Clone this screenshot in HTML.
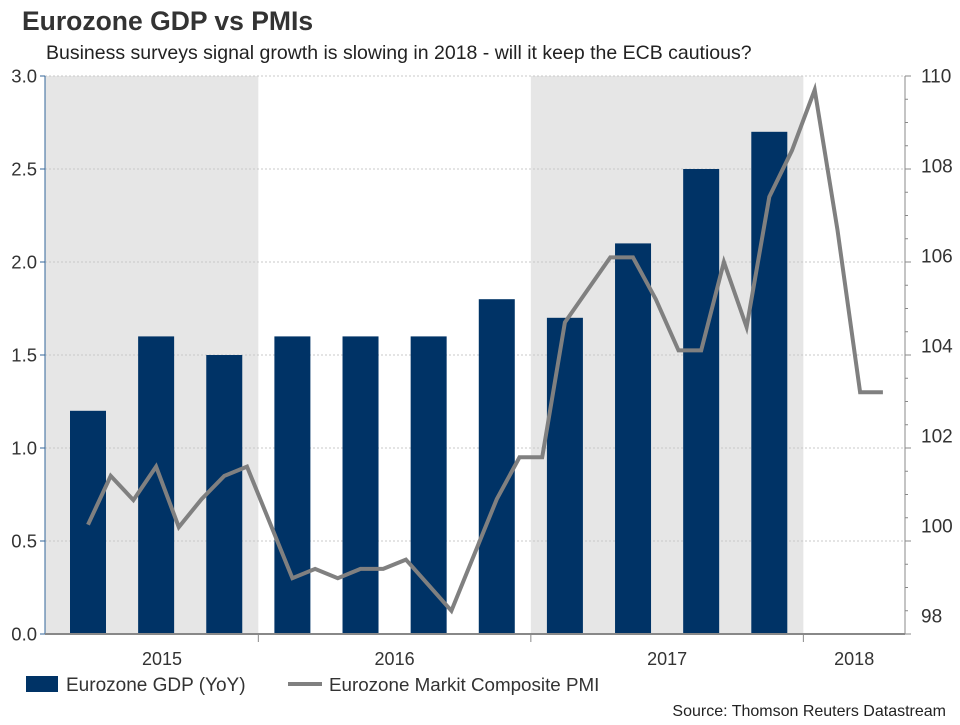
<!DOCTYPE html>
<html><head><meta charset="utf-8"><style>
body{margin:0;background:#fff;font-family:"Liberation Sans",Arial,sans-serif;}
svg text{font-family:"Liberation Sans",Arial,sans-serif;}
</style></head><body>
<svg id="chart" width="960" height="720" xmlns="http://www.w3.org/2000/svg">
<text x="22" y="30" font-size="26.5" font-weight="bold" fill="#333">Eurozone GDP vs PMIs</text>
<text x="46" y="59" font-size="19.5" fill="#222">Business surveys signal growth is slowing in 2018 - will it keep the ECB cautious?</text>
<g id="bg"></g><g id="grid"></g><g id="bars"></g><g id="line"></g><g id="axes"></g>
<g>
<rect x="26" y="676" width="32" height="16" fill="#003366"/>
<text x="66" y="691" font-size="19" fill="#333">Eurozone GDP (YoY)</text>
<line x1="288" y1="684" x2="322" y2="684" stroke="#808080" stroke-width="4"/>
<text x="329" y="691" font-size="18.8" fill="#333">Eurozone Markit Composite PMI</text>
</g>
<text x="946" y="716" font-size="16" fill="#222" text-anchor="end">Source: Thomson Reuters Datastream</text>
</svg>
<script>
const gdp = [1.2,1.6,1.5,1.6,1.6,1.6,1.8,1.7,2.1,2.5,2.7];
const pmi = [100.35,101.4,100.88,101.6,100.3,100.9,101.4,101.6,100.4,99.2,99.4,99.2,99.4,99.4,99.6,99.05,98.5,99.7,100.9,101.8,101.8,104.7,105.4,106.1,106.1,105.2,104.1,104.1,106.0,104.6,107.4,108.4,109.7,106.7,103.2,103.2];
const leftTicks = [0,0.5,1,1.5,2,2.5,3];
const leftLabels = ["0.0","0.5","1.0","1.5","2.0","2.5","3.0"];
const rightTicks = [98,100,102,104,106,108,110];
const years = ["2015","2016","2017","2018"];
const yearStart = [-1.9,7.5,19.5,31.5];
const shadedYears = [0,2];
const NS="http://www.w3.org/2000/svg";
const X0=45,X1=905,YT=76,YB=634;
const xm=i=>88+i*22.71;
const yl=v=>YB-(v/3)*(YB-YT);
const yr=v=>YB-((v-98)/12)*(YB-YT);
function mk(tag,attrs,parent,text){const e=document.createElementNS(NS,tag);for(const k in attrs)e.setAttribute(k,attrs[k]);if(text!==undefined)e.textContent=text;document.getElementById(parent).appendChild(e);return e;}
shadedYears.forEach(k=>{
  const xa=Math.max(X0,xm(yearStart[k])), xb=xm(yearStart[k+1]);
  const r=mk('rect',{x:xa,y:YT,width:xb-xa,height:YB-YT,fill:'#e6e6e6'},'bg');
  
  
});
leftTicks.forEach((v,i)=>{
  const y=yl(v);
  if(v>0){const g=mk('line',{x1:X0,x2:X1,y1:y,y2:y,stroke:'#c8c8c8','stroke-dasharray':'2,2'},'grid');
  
  }
  const t=mk('text',{x:37,y:y+6.5,'font-size':18.5,fill:'#333','text-anchor':'end'},'axes',leftLabels[i]);
  
  
  mk('line',{x1:X0-5,x2:X0,y1:y,y2:y,stroke:'#336699'},'axes');
});
rightTicks.forEach(v=>{
  const y=yr(v);
  const t=mk('text',{x:921,y:y+6.5-(110-v)*1.5,'font-size':19,fill:'#333'},'axes',String(v));
  
  
});
for(let v=98;v<=110;v+=0.5){const y=yr(v);mk('line',{x1:905,x2:v%2===0?911:908,y1:y,y2:y,stroke:'#888'},'axes');}
mk('line',{x1:905,x2:905,y1:YT,y2:YB,stroke:'#888'},'axes');
mk('line',{x1:X0,x2:X0,y1:YT,y2:YB,stroke:'#336699'},'axes');
const xa=mk('line',{x1:X0,x2:X1,y1:YB,y2:YB,stroke:'#888','stroke-width':2},'axes');


years.forEach((yName,k)=>{
  const a=Math.max(X0,xm(yearStart[k])), b=k<3?xm(yearStart[k+1]):X1;
  if(k>0) mk('line',{x1:a,x2:a,y1:YB,y2:YB+8,stroke:'#888'},'axes');
  const t=mk('text',{x:k===0?162:(a+b)/2,y:665,'font-size':18,fill:'#333','text-anchor':'middle'},'axes',yName);
  
  
});
gdp.forEach((v,i)=>{
  const cx=xm(i*3);
  const r=mk('rect',{x:cx-18,y:yl(v),width:36,height:YB-yl(v),fill:'#003366'},'bars');
  
  
});
const pts=pmi.map((v,i)=>xm(i).toFixed(1)+','+yr(v).toFixed(1)).join(' ');
const pl=mk('polyline',{points:pts,fill:'none',stroke:'#808080','stroke-width':4,'stroke-linejoin':'miter'},'line');


</script>
</body></html>
